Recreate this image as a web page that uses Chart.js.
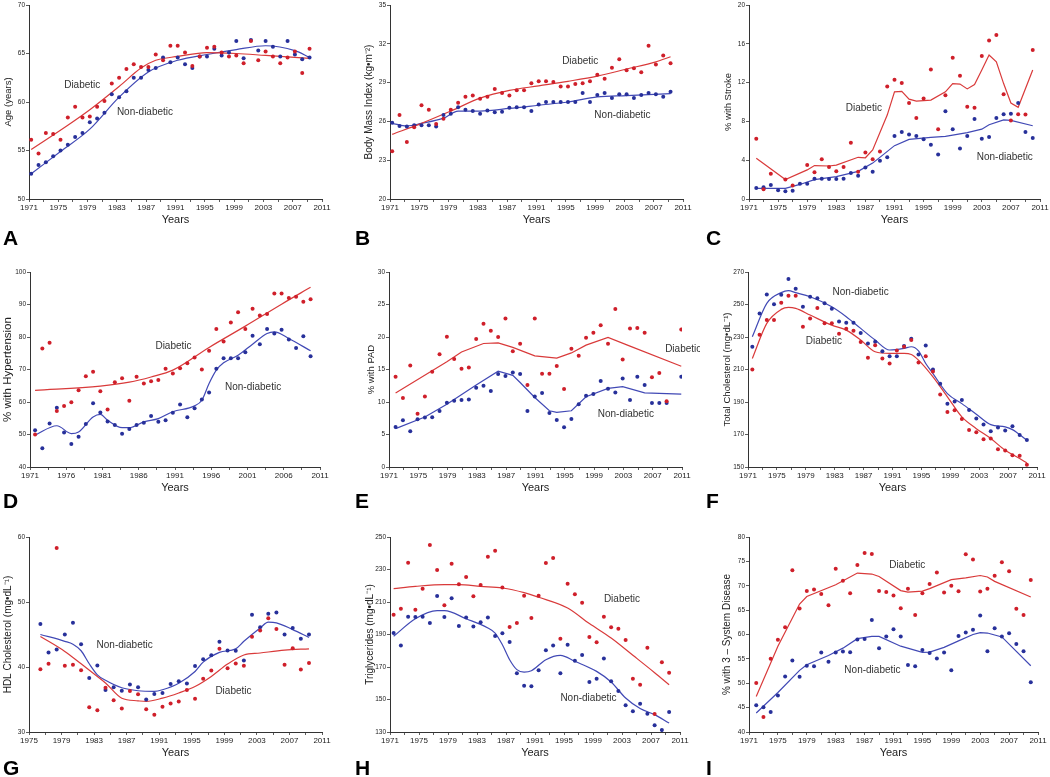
<!DOCTYPE html>
<html>
<head>
<meta charset="utf-8">
<script src="https://cdn.jsdelivr.net/npm/chart.js@4.4.1/dist/chart.umd.min.js"></script>
<style>
html, body { margin: 0; padding: 0; background: #fff; }
#wrap { position: relative; width: 1050px; height: 777px; overflow: hidden; }
#wrap canvas { position: absolute; }
</style>
</head>
<body>
<div id="wrap"></div>
<script>
// ---- data (one value per survey year) ----
const diabA = [56.1,54.7,56.8,56.7,56.1,58.4,59.5,58.4,58.5,59.5,60.1,61.9,62.5,63.4,63.9,63.6,63.6,64.9,64.3,65.8,65.8,65.1,63.7,64.7,65.6,65.7,65.1,64.7,64.8,64.0,66.3,64.3,65.2,64.7,64.0,64.6,65.2,63.0,65.5];
const nonA  = [52.6,53.5,53.8,54.4,55.0,55.6,56.4,56.8,57.9,58.3,58.9,60.8,60.5,61.1,62.5,62.5,63.3,63.5,64.6,64.1,64.6,63.9,63.5,64.7,64.7,65.5,64.8,65.1,66.3,64.5,66.4,65.3,66.3,65.7,64.7,66.3,64.9,64.4,64.6];
const diabLineXA = [1971,1976,1979,1983,1986,1988,1991,1995,1999,2003,2009];
const diabLineA  = [55.1,57.6,59.2,61.6,63.5,64.3,64.7,65.1,65.0,64.8,64.5];
const nonLineXA  = [1971,1975,1979,1983,1987,1991,1995,1999,2003,2007,2009];
const nonLineA   = [52.6,54.9,57.2,60.5,63.1,64.3,64.9,65.4,65.8,65.3,64.6];

const diabB = [23.7,26.5,24.4,25.55,27.25,26.9,25.8,26.2,26.9,27.45,27.9,28.0,27.75,27.9,28.5,28.2,28.0,28.4,28.4,28.95,29.1,29.1,29.05,28.7,28.7,28.9,28.95,29.1,29.6,29.3,30.15,30.8,29.95,30.1,29.8,31.85,30.4,31.1,30.5];
const nonB  = [25.9,25.65,25.6,25.7,25.7,25.7,25.6,26.5,26.6,27.1,26.9,26.8,26.6,26.85,26.7,26.75,27.05,27.1,27.1,26.8,27.3,27.5,27.5,27.5,27.5,27.5,28.2,27.5,28.05,28.2,27.8,28.1,28.1,27.8,28.05,28.2,28.1,27.9,28.3];
const diabLineXB = [1971,1975,1979,1983,1987,1991,1995,1999,2003,2007,2009];
const diabLineB  = [25.0,25.85,26.8,27.8,28.4,28.75,29.1,29.5,30.05,30.6,31.0];
const nonLineXB  = [1971,1973,1975,1978,1980,1983,1987,1991,1995,1999,2003,2009];
const nonLineB   = [25.85,25.65,25.85,26.25,26.8,26.8,27.0,27.25,27.5,27.9,28.0,28.15];

const diabC = [6.2,1.0,2.6,null,2.0,1.4,null,3.5,2.75,4.1,3.3,2.85,3.3,5.8,2.8,4.8,4.1,4.9,11.6,12.3,11.95,9.9,8.35,10.35,13.35,7.2,10.7,14.55,12.7,9.5,9.4,14.75,16.35,16.9,10.8,8.1,8.75,8.7,15.35];
const nonC  = [1.13,1.2,1.44,0.9,0.8,0.85,1.57,1.57,2.1,2.1,2.05,2.05,2.1,2.67,2.4,3.25,2.8,3.95,4.3,6.5,6.9,6.65,6.5,6.15,5.6,4.6,9.05,7.2,5.2,6.5,8.25,6.2,6.4,8.35,8.75,8.8,9.9,6.9,6.3];
const diabLineXC = [1972,1976,1979,1980,1982,1983,1986,1987,1988,1990,1991,1992,1993,1994,1996,1998,1999,2000,2001,2002,2003,2004,2005,2006,2007,2008,2010];
const diabLineC  = [4.2,2.0,3.0,3.45,3.4,3.5,4.3,4.25,5.05,8.65,11.05,11.1,10.3,10.1,10.2,11.05,11.9,11.85,11.35,11.8,13.3,14.85,14.15,11.9,9.9,9.45,13.3];
const nonLineXC  = [1972,1976,1978,1980,1983,1986,1988,1991,1993,1996,1998,2001,2003,2004,2006,2007,2010];
const nonLineC   = [1.1,1.1,1.5,2.0,2.3,2.85,3.7,5.5,6.15,6.35,6.45,6.85,7.2,7.65,8.15,8.1,7.55];

const diabD = [50.0,76.5,78.2,57.2,58.8,59.9,63.6,67.9,69.3,63.3,57.7,66.1,67.3,60.4,67.8,65.7,66.4,66.8,70.2,68.8,70.4,71.95,73.7,70.0,75.75,82.5,78.6,84.5,87.6,82.5,88.7,86.6,87.05,93.4,93.4,92.0,92.4,90.85,91.6];
const nonD  = [51.3,45.75,53.4,58.2,50.6,47.1,49.3,53.2,59.6,56.8,54.0,52.9,50.2,51.7,52.9,53.6,55.7,53.9,54.4,56.7,59.2,55.3,58.1,60.75,62.9,70.2,73.5,73.5,73.5,75.3,80.4,77.8,82.5,81.1,82.2,79.25,76.6,80.2,74.1];
const diabLineXD = [1972,1981,1985,1988,1991,1996,2001,2006,2010];
const diabLineD  = [63.6,64.9,66.1,67.7,69.8,76.8,83.35,90.1,95.3];
const nonLineXD  = [1972,1975,1977,1978,1980,1981,1982,1984,1985,1987,1989,1991,1994,1995,1996,1997,1998,2000,2002,2004,2005,2007,2010];
const nonLineD   = [49.8,52.7,50.3,50.8,55.4,56.2,54.4,52.1,52.1,53.9,54.9,57.0,58.8,60.55,65.7,69.8,72.05,74.4,77.8,81.1,81.6,79.55,75.75];

const diabE = [13.9,10.6,15.6,8.2,10.85,14.65,17.35,20.05,16.6,15.1,15.3,19.7,22.05,20.95,20.0,22.85,17.8,18.95,12.6,22.85,14.35,14.35,15.55,12.0,18.2,17.1,19.9,20.65,21.8,18.95,24.3,16.55,21.3,21.4,20.65,13.8,14.45,10.1,21.15];
const nonE  = [6.15,7.2,5.5,7.35,7.6,7.65,8.6,9.9,10.2,10.3,10.4,12.2,12.5,11.7,14.3,14.0,14.55,14.3,8.6,10.85,11.4,8.3,7.25,6.1,7.4,9.65,10.95,11.25,13.25,12.05,11.45,13.6,10.3,13.9,12.6,9.85,9.85,9.85,13.9];
const diabLineXE = [1972,1979,1981,1984,1986,1988,1991,1994,1996,1998,2001,2004,2011];
const diabLineE  = [11.4,16.2,17.7,19.0,19.1,18.4,17.1,16.75,17.55,18.75,19.95,18.6,15.5];
const nonLineXE  = [1972,1976,1979,1983,1986,1988,1989,1991,1993,1994,1996,1998,2001,2003,2006,2011];
const nonLineE   = [5.9,7.7,9.65,12.6,14.75,14.1,13.0,10.7,8.65,8.4,8.65,10.8,12.1,12.35,11.4,11.2];

const diabF = [210.0,231.4,240.4,240.4,251.1,255.4,255.4,236.3,241.4,247.8,238.4,238.4,232.0,235.1,233.8,226.85,217.2,225.0,216.8,213.7,221.7,224.0,228.1,214.3,218.2,208.8,194.6,183.9,184.9,179.6,172.8,171.4,167.1,167.5,160.9,160.1,157.2,157.0,151.45];
const nonF  = [224.0,244.5,256.2,250.1,256.0,265.7,259.7,248.6,254.8,253.8,250.7,247.4,239.6,238.8,238.8,232.4,226.0,227.1,221.3,218.2,218.2,224.4,228.9,219.25,224.8,210.0,201.2,189.0,190.3,191.3,185.1,179.8,176.1,172.0,174.25,172.4,175.1,169.7,166.65];
const diabLineXF = [1972,1974,1976,1977,1978,1980,1983,1985,1987,1989,1991,1993,1994,1995,1997,1999,2001,2003,2005,2007,2009,2010];
const diabLineF  = [216.8,238.4,247.0,248.2,247.6,243.5,237.3,234.25,228.1,220.9,219.9,219.9,219.25,215.8,205.5,193.2,180.8,173.6,167.5,160.3,155.2,152.5];
const nonLineXF  = [1972,1974,1976,1977,1978,1980,1983,1985,1987,1989,1991,1993,1994,1995,1996,1997,1999,2001,2003,2005,2007,2008,2010];
const nonLineF   = [230.1,250.7,257.3,258.5,257.3,254.8,248.6,242.5,235.3,228.1,222.0,223.0,224.0,221.5,213.7,207.5,195.2,189.0,182.5,176.1,174.7,173.0,166.4];

const diabG = [39.65,40.5,58.3,40.2,40.35,39.5,33.8,33.35,36.8,34.9,33.6,36.3,35.8,33.5,32.65,33.9,34.4,34.7,36.45,35.1,38.2,39.45,42.8,39.8,40.55,40.2,44.65,45.6,47.5,45.85,40.35,42.9,39.6,40.6];
const nonG  = [46.6,42.25,42.7,45.0,46.8,43.5,38.3,40.25,36.45,36.9,36.35,37.3,36.9,35.0,35.85,36.0,37.4,37.8,37.45,40.15,41.2,41.8,43.9,42.55,42.5,41.0,48.05,46.1,48.2,48.4,45.0,46.0,44.35,45.0];
const diabLineXG = [1976,1979,1981,1983,1984,1986,1988,1989,1991,1993,1995,1997,1999,2001,2003,2006,2009];
const diabLineG  = [44.7,42.4,40.5,38.55,37.55,35.2,34.8,34.7,35.2,36.0,37.0,38.55,40.45,41.85,42.15,42.6,42.8];
const nonLineXG  = [1976,1979,1980,1981,1982,1983,1984,1986,1988,1990,1991,1993,1995,1996,1998,2000,2001,2003,2004,2005,2007,2009];
const nonLineG   = [45.0,43.95,43.5,42.5,40.5,38.8,37.95,36.8,36.35,36.25,36.5,37.5,39.3,40.75,42.25,42.8,43.95,46.0,46.9,46.8,45.75,44.55];

const diabH = [202.2,205.9,234.2,205.3,218.2,245.1,229.7,208.0,233.6,220.9,225.4,213.5,220.5,237.9,241.6,219.0,194.6,197.1,213.9,200.2,213.9,234.0,237.1,187.4,221.3,214.7,209.6,188.5,185.2,201.0,194.4,193.6,186.6,162.8,159.1,181.9,141.1,172.9,166.5];
const nonH  = [190.9,183.3,201.0,200.8,201.0,197.1,213.7,200.8,212.3,195.2,200.4,195.0,197.5,200.4,189.1,190.7,185.4,166.1,158.5,158.1,168.0,180.25,183.3,166.1,183.7,173.9,177.4,160.8,162.8,175.3,161.2,155.2,146.4,142.7,147.4,141.3,134.1,131.2,142.3];
const diabLineXH = [1971,1974,1978,1980,1983,1986,1989,1991,1995,1998,2001,2004,2007,2009];
const diabLineH  = [218.2,219.6,220.7,220.7,219.6,218.6,215.75,212.9,206.3,196.7,187.8,177.2,166.5,159.1];
const nonLineXH  = [1971,1974,1977,1978,1981,1984,1985,1986,1987,1988,1989,1990,1992,1994,1996,1999,2001,2003,2005,2007,2009];
const nonLineH   = [188.9,199.7,204.7,204.7,199.7,194.0,190.9,183.7,174.5,168.4,166.9,167.7,174.5,177.2,173.5,167.3,160.8,150.9,144.4,140.7,135.5];

const diabI = [50.05,43.1,55.05,58.9,61.5,73.2,65.35,68.9,69.25,68.3,66.0,73.5,71.05,68.45,74.25,76.7,76.5,68.9,68.7,68.0,65.4,69.4,64.0,68.45,70.35,72.7,68.6,70.0,68.85,76.45,75.4,68.8,69.4,72.05,74.8,72.95,65.3,64.0,71.2];
const nonI  = [45.5,45.1,44.1,47.5,51.4,54.65,51.35,53.6,53.5,56.3,54.4,56.3,56.5,56.35,58.95,59.1,63.0,57.2,59.6,61.1,59.6,53.75,53.5,56.8,56.2,55.1,56.3,52.65,59.7,60.4,61.0,63.9,56.55,61.3,59.6,60.25,58.05,56.55,50.2];
const diabLineXI = [1972,1975,1978,1979,1983,1986,1988,1989,1992,1993,1995,1996,1999,2001,2003,2004,2005,2010];
const diabLineI  = [47.3,57.6,66.25,67.8,70.2,72.6,72.4,71.9,69.0,68.7,68.9,69.4,71.25,71.6,72.1,71.8,70.9,67.7];
const nonLineXI  = [1972,1975,1978,1979,1982,1984,1986,1988,1989,1992,1995,1996,1998,2000,2002,2003,2004,2006,2010];
const nonLineI   = [43.9,48.1,52.65,53.8,55.7,57.2,59.15,59.6,59.6,57.6,56.35,56.4,57.35,58.7,60.0,60.4,60.3,59.5,53.6];

// survey years for each panel
const years71 = [1971,1972,1973,1974,1975,1976,1977,1978,1979,1980,1981,1982,1983,1984,1985,1986,1987,1988,1989,1990,1991,1992,1993,1994,1995,1996,1997,1998,1999,2000,2001,2002,2003,2004,2005,2006,2007,2008,2009];
const years72 = [1972,1973,1974,1975,1976,1977,1978,1979,1980,1981,1982,1983,1984,1985,1986,1987,1988,1989,1990,1991,1992,1993,1994,1995,1996,1997,1998,1999,2000,2001,2002,2003,2004,2005,2006,2007,2008,2009,2010];
const yearsE  = [1972,1973,1974,1975,1976,1977,1978,1979,1980,1981,1982,1983,1984,1985,1986,1987,1988,1989,1990,1991,1992,1993,1994,1995,1996,1997,1998,1999,2000,2001,2002,2003,2004,2005,2006,2007,2008,2009,2011];
const yearsG  = [1976,1977,1978,1979,1980,1981,1982,1983,1984,1985,1986,1987,1988,1989,1990,1991,1992,1993,1994,1995,1996,1997,1998,1999,2000,2001,2002,2003,2004,2005,2006,2007,2008,2009];

const RED_DOT = '#cf1f2a', BLUE_DOT = '#27309a';
const RED_LINE = '#d93a3a', BLUE_LINE = '#4149b5';
const ROW_TOP = [0, 260, 518], ROW_H = [260, 258, 259];
const LETTER_Y = [245, 248, 257], LETTER_X = [3, 5, 6];

Chart.defaults.font.family = '"Liberation Sans", Arial, Helvetica, sans-serif';
Chart.defaults.color = '#222';

// box = plot area in page pixels: left, right, top, bottom
const panels = [
  { letter: 'A', col: 0, row: 0, box: [29, 322, 5, 199], yTitle: 'Age (years)', yTitleX: 8, yTitleSize: 9.5,
    y: [50, 70, 5], x: [1971, 2011, 4, 2], shift: 0.3, years: years71, diab: diabA, non: nonA,
    dl: [diabLineXA, diabLineA], nl: [nonLineXA, nonLineA], smooth: true,
    notes: [['Diabetic', 1975.8, 61.7], ['Non-diabetic', 1983.0, 58.9]] },
  { letter: 'B', col: 1, row: 0, box: [390, 683, 5, 199], yTitle: 'Body Mass Index (kg\u2022m\u207B\u00B2)', yTitleX: 19, yTitleSize: 10,
    y: [20, 35, 3], x: [1971, 2011, 4, 2], shift: 0.3, years: years71, diab: diabB, non: nonB,
    dl: [diabLineXB, diabLineB], nl: [nonLineXB, nonLineB], smooth: true,
    notes: [['Diabetic', 1994.5, 30.66], ['Non-diabetic', 1998.9, 26.5]] },
  { letter: 'C', col: 2, row: 0, box: [749, 1040, 5, 199], yTitle: '% with Stroke', yTitleX: 28, yTitleSize: 9.5,
    y: [0, 20, 4], x: [1971, 2011, 4, 2], shift: 0, years: years72, diab: diabC, non: nonC,
    dl: [diabLineXC, diabLineC], nl: [nonLineXC, nonLineC], smooth: false,
    notes: [['Diabetic', 1984.3, 9.35], ['Non-diabetic', 2002.3, 4.3]] },
  { letter: 'D', col: 0, row: 1, box: [30, 320, 272, 467], yTitle: '% with Hypertension', yTitleX: 8, yTitleSize: 11.5,
    y: [40, 100, 10], x: [1971, 2011, 5, 2.5], shift: -0.3, years: years72, diab: diabD, non: nonD,
    dl: [diabLineXD, diabLineD], nl: [nonLineXD, nonLineD], smooth: true,
    notes: [['Diabetic', 1988.3, 77.2], ['Non-diabetic', 1997.9, 64.55]] },
  { letter: 'E', col: 1, row: 1, box: [389, 682, 272, 467], yTitle: '% with PAD', yTitleX: 21, yTitleSize: 9.5,
    y: [0, 30, 5], x: [1971, 2011, 4, 2], shift: -0.1, years: yearsE, diab: diabE, non: nonE,
    dl: [diabLineXE, diabLineE], nl: [nonLineXE, nonLineE], smooth: false,
    notes: [['Diabetic', 2008.7, 18.1], ['Non-diabetic', 1999.5, 8.1]] },
  { letter: 'F', col: 2, row: 1, box: [748, 1037, 272, 467], yTitle: 'Total Cholesterol (mg\u2022dL\u207B\u00B9)', yTitleX: 27, yTitleSize: 9.6,
    y: [150, 270, 20], x: [1971, 2011, 4, 2], shift: -0.4, years: years72, diab: diabF, non: nonF,
    dl: [diabLineXF, diabLineF], nl: [nonLineXF, nonLineF], smooth: true,
    notes: [['Non-diabetic', 1982.7, 257.5], ['Diabetic', 1979.0, 227.5]] },
  { letter: 'G', col: 0, row: 2, box: [29, 322, 537, 732], yTitle: 'HDL Cholesterol (mg\u2022dL\u207B\u00B9)', yTitleX: 8, yTitleSize: 10,
    y: [30, 60, 10], x: [1975, 2011, 4, 2], shift: 0.4, years: yearsG, diab: diabG, non: nonG,
    dl: [diabLineXG, diabLineG], nl: [nonLineXG, nonLineG], smooth: true,
    notes: [['Non-diabetic', 1983.3, 43.4], ['Diabetic', 1997.9, 36.3]] },
  { letter: 'H', col: 1, row: 2, box: [390, 680, 537, 732], yTitle: 'Triglycerides (mg\u2022dL\u207B\u00B9)', yTitleX: 20, yTitleSize: 10,
    y: [130, 250, 20], x: [1971, 2011, 4, 2], shift: 0.5, years: years71, diab: diabH, non: nonH,
    dl: [diabLineXH, diabLineH], nl: [nonLineXH, nonLineH], smooth: true,
    notes: [['Diabetic', 2000.5, 211.8], ['Non-diabetic', 1994.5, 150.7]] },
  { letter: 'I', col: 2, row: 2, box: [749, 1038, 537, 732], yTitle: '% with 3 \u2013 System Disease', yTitleX: 27, yTitleSize: 10,
    y: [40, 80, 5], x: [1971, 2011, 4, 2], shift: 0, years: years72, diab: diabI, non: nonI,
    dl: [diabLineXI, diabLineI], nl: [nonLineXI, nonLineI], smooth: false,
    notes: [['Diabetic', 1990.4, 74.25], ['Non-diabetic', 1984.2, 52.65]] }
];

function pts(xs, ys, shift) {
  const out = [];
  xs.forEach((x, i) => { if (ys[i] !== null) out.push({ x: x + shift, y: ys[i] }); });
  return out;
}

function makeChart(p) {
  const wrap = document.getElementById('wrap');
  const cv = document.createElement('canvas');
  const ox = p.col * 350, oy = ROW_TOP[p.row], h = ROW_H[p.row];
  cv.width = 350; cv.height = h;
  cv.style.left = ox + 'px'; cv.style.top = oy + 'px';
  cv.style.width = '350px'; cv.style.height = h + 'px';
  wrap.appendChild(cv);

  const L = p.box[0] - ox, R = p.box[1] - ox, T = p.box[2] - oy, B = p.box[3] - oy;
  const xTitleSize = 11, xLH = xTitleSize * 1.2;
  const xH = 21 + xLH / 2;
  const [xMin, xMax, xLab, xMinor] = p.x;
  const yLH = p.yTitleSize * 1.2;

  const lineStyle = p.smooth ? { cubicInterpolationMode: 'monotone' } : { tension: 0 };

  const labelsPlugin = {
    id: 'labels' + p.letter,
    afterDatasetsDraw(chart) {
      const { ctx, scales } = chart;
      ctx.save();
      ctx.fillStyle = '#333';
      ctx.font = '10px "Liberation Sans", Arial, sans-serif';
      ctx.textAlign = 'left';
      ctx.textBaseline = 'middle';
      p.notes.forEach(n => ctx.fillText(n[0], scales.x.getPixelForValue(n[1]), scales.y.getPixelForValue(n[2])));
      ctx.fillStyle = '#000';
      ctx.font = 'bold 21px "Liberation Sans", Arial, sans-serif';
      ctx.textBaseline = 'alphabetic';
      ctx.fillText(p.letter, LETTER_X[p.col], LETTER_Y[p.row]);
      ctx.restore();
    }
  };

  new Chart(cv, {
    type: 'scatter',
    data: {
      datasets: [
        { data: pts(p.years, p.diab, p.shift), backgroundColor: RED_DOT, borderWidth: 0, pointRadius: 2, order: 0 },
        { data: pts(p.years, p.non, p.shift), backgroundColor: BLUE_DOT, borderWidth: 0, pointRadius: 2, order: 0 },
        Object.assign({ data: pts(p.dl[0], p.dl[1], p.shift), showLine: true, borderColor: RED_LINE, borderWidth: 1.2, pointRadius: 0, order: 1 }, lineStyle),
        Object.assign({ data: pts(p.nl[0], p.nl[1], p.shift), showLine: true, borderColor: BLUE_LINE, borderWidth: 1.2, pointRadius: 0, order: 1 }, lineStyle)
      ]
    },
    options: {
      responsive: false,
      animation: false,
      devicePixelRatio: 1,
      layout: { padding: { left: 0, top: T, right: 350 - R, bottom: h - B - xH } },
      plugins: { legend: { display: false }, tooltip: { enabled: false } },
      scales: {
        x: {
          type: 'linear', min: xMin, max: xMax,
          afterFit(s) { s.height = xH; },
          afterBuildTicks(s) {
            const t = [];
            for (let v = xMin; v <= xMax + 1e-6; v += xMinor) t.push({ value: v });
            s.ticks = t;
          },
          ticks: {
            autoSkip: false, maxRotation: 0, padding: 1, color: '#222',
            font: { size: 8 },
            callback(v) {
              const k = (v - xMin) / xLab;
              return Math.abs(k - Math.round(k)) < 1e-6 ? String(Math.round(v)) : '';
            }
          },
          grid: { drawOnChartArea: false, drawTicks: true, tickLength: 3, tickColor: '#333', tickWidth: 0.8 },
          border: { display: true, color: '#333', width: 1 },
          title: { display: true, text: 'Years', color: '#222', font: { size: xTitleSize }, padding: 0 }
        },
        y: {
          min: p.y[0], max: p.y[1],
          afterFit(s) { s.width = L; },
          ticks: { stepSize: p.y[2], padding: 1, color: '#222', font: { size: 6.5 } },
          grid: { drawOnChartArea: false, drawTicks: true, tickLength: 3, tickColor: '#333', tickWidth: 0.8 },
          border: { display: true, color: '#333', width: 1 },
          title: { display: true, text: p.yTitle, color: '#222', font: { size: p.yTitleSize }, padding: { top: p.yTitleX - yLH / 2, bottom: 0 } }
        }
      }
    },
    plugins: [labelsPlugin]
  });
}

panels.forEach(makeChart);
</script>
</body>
</html>
